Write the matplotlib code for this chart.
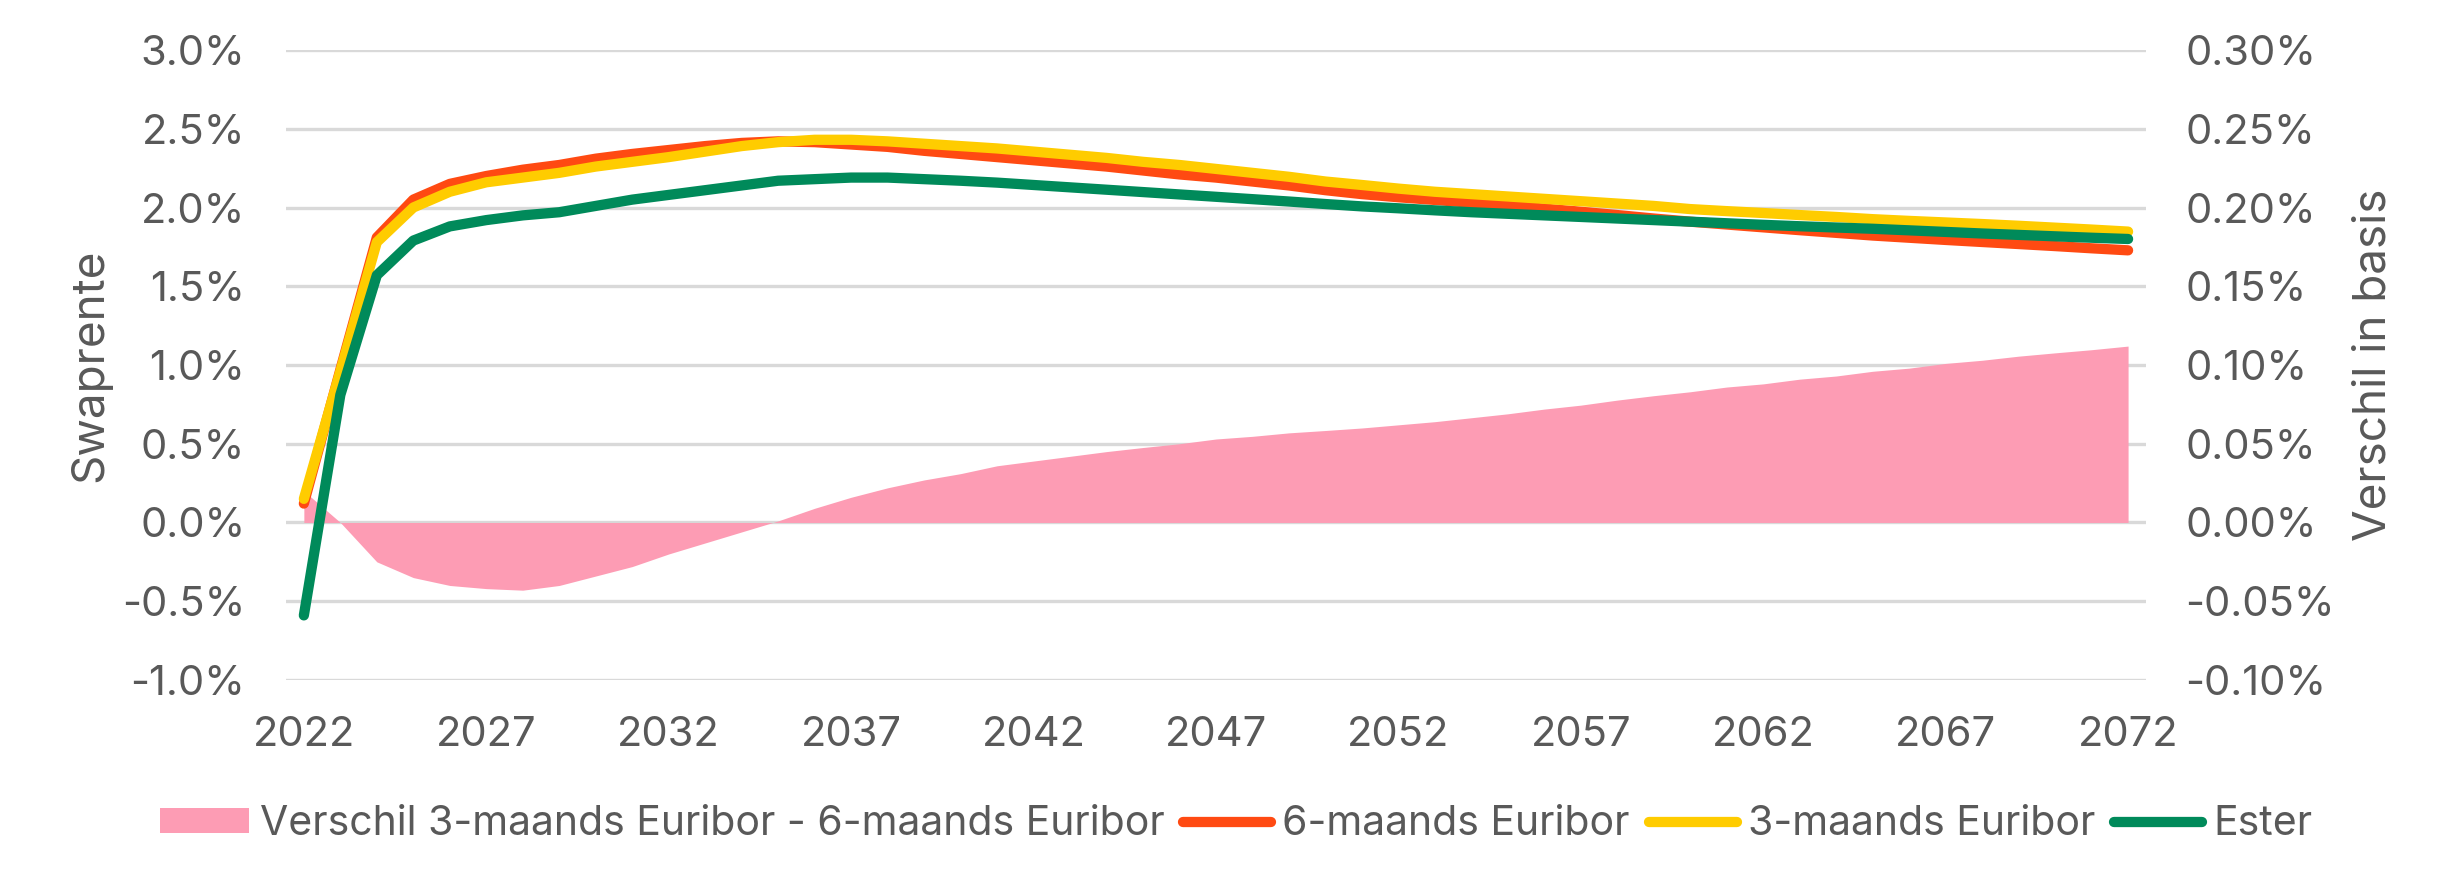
import matplotlib
matplotlib.use("Agg")
import matplotlib.pyplot as plt
from matplotlib.ticker import FuncFormatter, MultipleLocator

plt.rcParams['font.family'] = ['Inter', 'DejaVu Sans']

years = list(range(2022, 2073))

euribor_6m = [0.12, 0.97, 1.81, 2.05, 2.15, 2.20, 2.24, 2.27, 2.31, 2.34,
              2.365, 2.39, 2.41, 2.42, 2.415, 2.40, 2.385, 2.36, 2.34, 2.32,
              2.30, 2.28, 2.26, 2.235, 2.21, 2.19, 2.165, 2.14, 2.11, 2.085,
              2.065, 2.048, 2.03, 2.012, 1.993, 1.973, 1.952, 1.93, 1.91, 1.892,
              1.874, 1.856, 1.839, 1.822, 1.808, 1.794, 1.781, 1.768, 1.755, 1.741,
              1.728]

euribor_3m = [0.15, 0.96, 1.78, 2.00, 2.10, 2.16, 2.19, 2.22, 2.26, 2.29,
              2.32, 2.355, 2.39, 2.415, 2.43, 2.43, 2.42, 2.405, 2.39, 2.375,
              2.355, 2.335, 2.315, 2.29, 2.27, 2.245, 2.22, 2.195, 2.165, 2.143,
              2.12, 2.10, 2.085, 2.07, 2.055, 2.04, 2.025, 2.01, 1.99, 1.977,
              1.965, 1.952, 1.94, 1.926, 1.915, 1.905, 1.895, 1.884, 1.872, 1.86,
              1.847]

ester = [-0.59, 0.81, 1.57, 1.79, 1.88, 1.92, 1.95, 1.97, 2.01, 2.05,
         2.08, 2.11, 2.14, 2.17, 2.18, 2.19, 2.19, 2.18, 2.17, 2.158,
         2.143, 2.128, 2.113, 2.098, 2.083, 2.068, 2.053, 2.038, 2.022, 2.007,
         1.995, 1.982, 1.97, 1.96, 1.95, 1.94, 1.93, 1.92, 1.91, 1.90,
         1.89, 1.881, 1.873, 1.865, 1.855, 1.845, 1.835, 1.826, 1.817, 1.808,
         1.80]

# verschil 3m - 6m, rechter as (in %)
verschil = [0.020, 0.000, -0.025, -0.035, -0.040, -0.042, -0.043, -0.040, -0.034, -0.028,
            -0.020, -0.013, -0.006, 0.001, 0.009, 0.016, 0.022, 0.027, 0.031, 0.036,
            0.039, 0.042, 0.045, 0.0476, 0.050, 0.053, 0.0547, 0.0569, 0.0584, 0.060,
            0.062, 0.064, 0.0665, 0.069, 0.072, 0.0745, 0.0777, 0.0805, 0.083, 0.086,
            0.088, 0.091, 0.093, 0.096, 0.098, 0.101, 0.103, 0.1056, 0.1077, 0.1097,
            0.112]

xticks = [2022, 2027, 2032, 2037, 2042, 2047, 2052, 2057, 2062, 2067, 2072]

c_text = '#595959'
c_grid = '#D9D9D9'
c_pink = '#FD9CB4'
c_orange = '#FF4A12'
c_yellow = '#FFCC00'
c_green = '#008A5A'

fig = plt.figure(figsize=(24.58, 8.90), dpi=100)
ax = fig.add_axes([0.1162, 0.236, 0.757, 0.7078])
ax2 = ax.twinx()

# rechter as onder, lijnen erboven
ax.set_zorder(2)
ax2.set_zorder(1)
ax.patch.set_visible(False)

ax2.set_axisbelow(True)
ax2.yaxis.grid(True, color=c_grid, linewidth=2.4)
area = ax2.fill_between(years, verschil, 0, color=c_pink, linewidth=0,
                        label='Verschil 3-maands Euribor - 6-maands Euribor')

lw = 7.4
l1, = ax.plot(years, euribor_6m, color=c_orange, lw=lw, solid_capstyle='round',
              solid_joinstyle='round', label='6-maands Euribor')
l2, = ax.plot(years, euribor_3m, color=c_yellow, lw=lw, solid_capstyle='round',
              solid_joinstyle='round', label='3-maands Euribor')
l3, = ax.plot(years, ester, color=c_green, lw=lw, solid_capstyle='round',
              solid_joinstyle='round', label='Ester')

ax.set_xlim(2021.5, 2072.5)
ax.set_ylim(-1.0, 3.0)
ax2.set_ylim(-0.10, 0.30)
ax.yaxis.set_major_locator(MultipleLocator(0.5))
ax2.yaxis.set_major_locator(MultipleLocator(0.05))
ax.set_xticks(xticks)
ax.yaxis.set_major_formatter(FuncFormatter(lambda v, p: f'{v:.1f}%'))
ax2.yaxis.set_major_formatter(FuncFormatter(lambda v, p: f'{v:.2f}%'))

for a in (ax, ax2):
    for s in a.spines.values():
        s.set_visible(False)
    a.tick_params(length=0, labelsize=30, labelcolor=c_text)
ax.tick_params(axis='y', pad=29)
ax2.tick_params(axis='y', pad=28)
ax.tick_params(axis='x', pad=26)

ax.set_ylabel('Swaprente', fontsize=33, color=c_text)
ax.yaxis.set_label_coords(-0.0935, 0.5)
ax2.set_ylabel('Verschil in basis', fontsize=33, color=c_text)
ax2.yaxis.set_label_coords(1.111, 0.5)

fig.legend(handles=[area, l1, l2, l3], loc='center', bbox_to_anchor=(0.503, 0.074),
           ncol=4, frameon=False, fontsize=29.5, labelcolor=c_text,
           handlelength=2.15, handleheight=0.56, handletextpad=0.27,
           columnspacing=0.46)

fig.savefig('out.png', dpi=100)
